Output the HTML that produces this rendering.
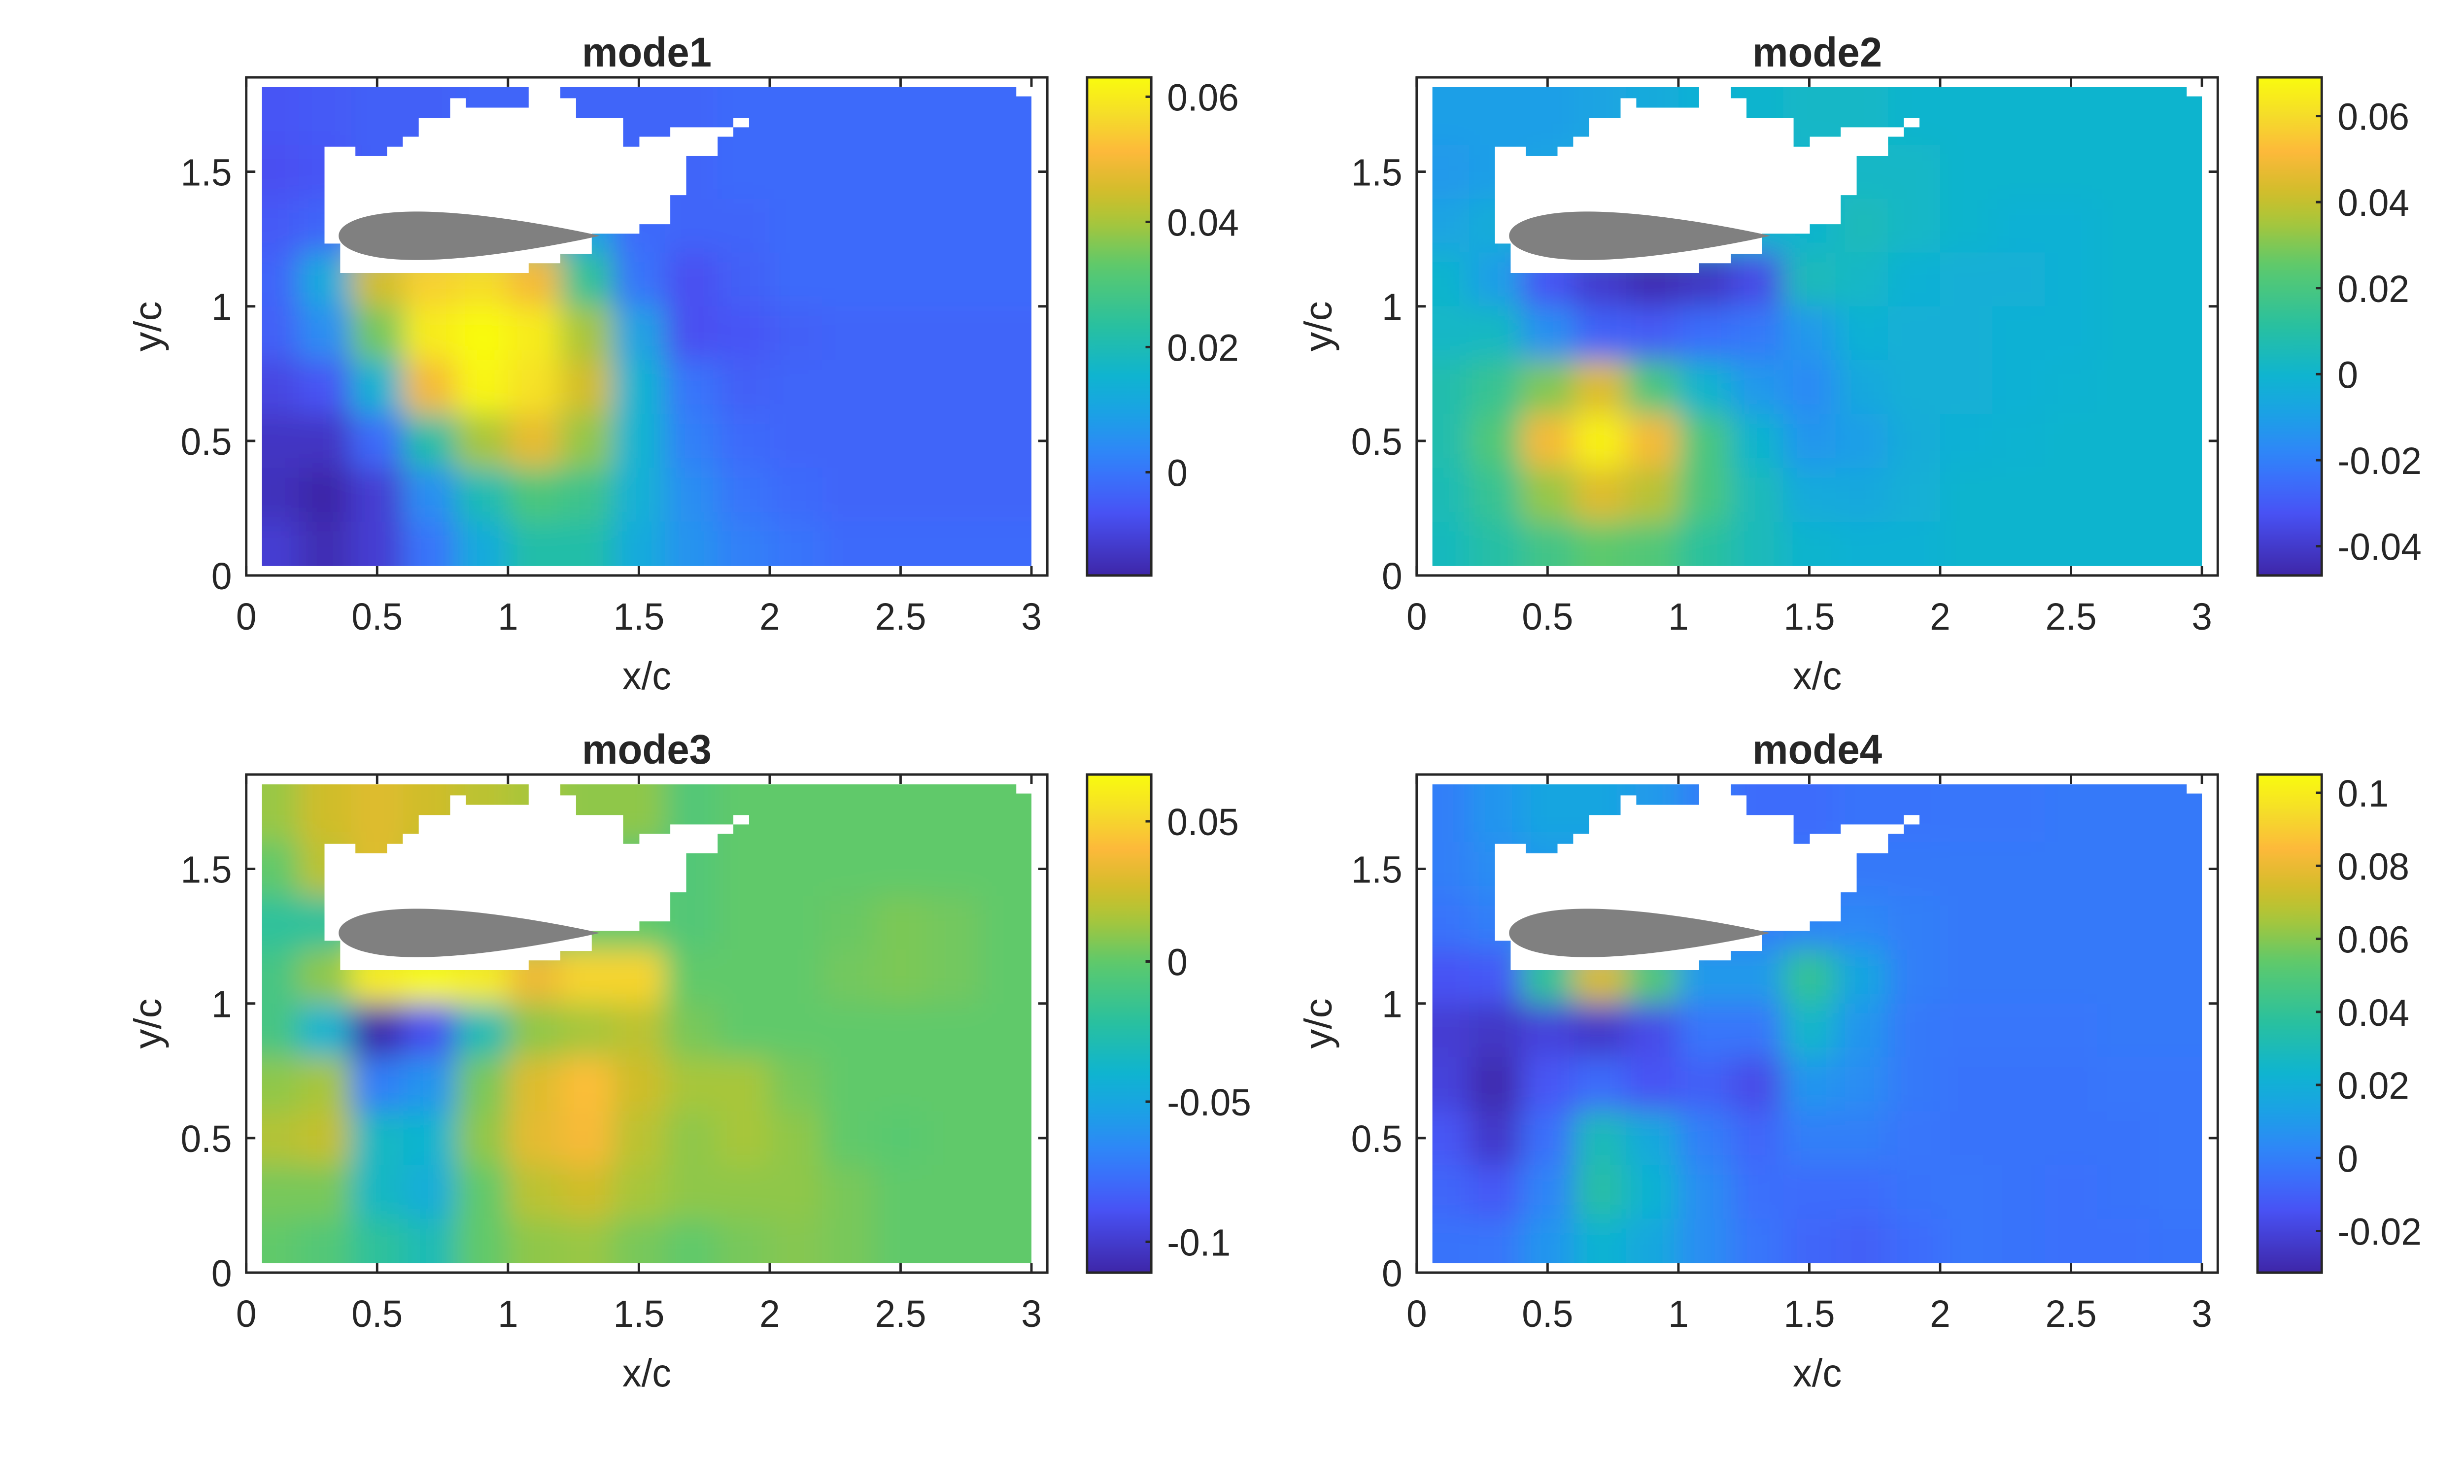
<!DOCTYPE html>
<html><head><meta charset="utf-8">
<style>
html,body{margin:0;padding:0;background:#fff;overflow:hidden;width:100%;height:100%;}
svg{display:block;width:100vw;height:100vh;}
text{font-family:"Liberation Sans",Arial,sans-serif;fill:#262626;}
</style></head>
<body>
<svg id="fig" xmlns="http://www.w3.org/2000/svg" viewBox="0 0 5143 3012" preserveAspectRatio="none">
<defs>
<filter id="blur" filterUnits="userSpaceOnUse" x="-500" y="-500" width="6200" height="4000"><feGaussianBlur stdDeviation="30"/></filter>
</defs>
</svg>
<script>
// grid centres (data units)
const xCenters = [0.1,0.3,0.5,0.7,0.9,1.1,1.3,1.5,1.7,1.9,2.1,2.3,2.5,2.7,2.9];
const yCenters = [1.7,1.5,1.3,1.1,0.9,0.7,0.5,0.3,0.1];
const xTicks = [0,0.5,1,1.5,2,2.5,3];
const xTickLabels = ["0","0.5","1","1.5","2","2.5","3"];
const yTicks = [0,0.5,1,1.5];
const yTickLabels = ["0","0.5","1","1.5"];
const titles = ["mode1","mode2","mode3","mode4"];
const cRanges = [[-0.0165,0.0631],[-0.0468,0.069],[-0.111,0.0667],[-0.0314,0.105]];
const cbTicks1 = [0,0.02,0.04,0.06];
const cbTicks2 = [-0.04,-0.02,0,0.02,0.04,0.06];
const cbTicks3 = [-0.1,-0.05,0,0.05];
const cbTicks4 = [-0.02,0,0.02,0.04,0.06,0.08,0.1];
const cbLabels1 = ["0","0.02","0.04","0.06"];
const cbLabels2 = ["-0.04","-0.02","0","0.02","0.04","0.06"];
const cbLabels3 = ["-0.1","-0.05","0","0.05"];
const cbLabels4 = ["-0.02","0","0.02","0.04","0.06","0.08","0.1"];
const mode1 = [
[-.006,-.005,-.004,-.004,-.003,-.003,-.003,-.003,-.003,-.002,-.002,-.002,-.002,-.002,-.002],
[-.007,-.006,-.004,-.003,-.003,-.003,-.003,-.003,-.003,-.002,-.002,-.002,-.002,-.002,-.002],
[-.005,-.003,.015,.03,.03,.025,.01,-.002,-.003,-.003,-.002,-.002,-.002,-.002,-.002],
[-.003,.012,.045,.055,.057,.05,.025,.0,-.007,-.004,-.002,-.002,-.002,-.002,-.002],
[-.004,.005,.035,.06,.065,.06,.04,.01,-.007,-.006,-.004,-.003,-.003,-.003,-.003],
[-.009,-.006,.015,.05,.062,.058,.045,.015,.0,-.004,-.003,-.003,-.003,-.003,-.003],
[-.013,-.013,-.002,.022,.04,.048,.038,.015,.002,-.002,-.003,-.003,-.003,-.003,-.003],
[-.014,-.017,-.011,.005,.02,.03,.027,.014,.005,.0,-.002,-.003,-.003,-.003,-.003],
[-.011,-.015,-.011,.0,.012,.022,.022,.012,.006,.002,.0,-.002,-.002,-.002,-.002]];
const mode2 = [
[-.01,-.01,-.01,-.008,-.005,-.002,.0,.002,.002,.0,.0,.0,.0,.0,.0],
[-.012,-.01,-.008,-.005,-.003,.0,.0,.0,.002,.002,.0,.0,.0,.0,.0],
[-.008,-.004,.0,.0,.0,.0,.0,.0,.005,.002,.0,-.002,-.002,.0,.0],
[.0,-.01,-.032,-.04,-.045,-.042,-.035,.005,.002,-.002,-.003,-.003,-.002,.0,.0],
[.002,.003,-.015,-.028,-.03,-.025,-.022,-.012,-.002,-.003,-.003,-.002,-.002,.0,.0],
[.008,.015,.03,.045,.02,.0,-.012,-.017,-.006,-.003,-.003,-.002,-.001,.0,.0],
[.008,.022,.05,.066,.05,.02,.0,-.013,-.01,-.004,-.002,-.001,.0,.0,.0],
[.006,.015,.033,.045,.038,.02,.005,-.005,-.006,-.003,.0,.0,.0,.0,.0],
[.004,.01,.018,.025,.022,.012,.005,.0,-.002,-.002,.0,.0,.0,.0,.0]];
const mode3 = [
[.012,.025,.03,.025,.02,.015,.01,.01,-.005,.0,.0,.0,.0,.0,.0],
[.0,.02,.03,.02,.01,.01,.0,-.005,-.005,.0,.0,.0,.0,.0,.0],
[-.02,-.02,.0,.0,.0,.0,.0,.0,-.005,.0,.0,.002,.006,.004,.0],
[-.01,.01,.06,.066,.06,.035,.05,.05,.0,.0,.0,.004,.006,.004,.0],
[-.01,-.04,-.11,-.09,-.03,.01,.015,.02,.005,.0,.0,.0,.0,.0,.0],
[.01,.015,-.07,-.06,.005,.03,.042,.025,.015,.015,.005,.0,.0,.0,.0],
[.018,.022,-.035,-.04,.01,.032,.038,.02,.01,.015,.01,.0,-.002,.0,.0],
[.005,.005,-.035,-.045,.0,.02,.025,.015,.01,.01,.01,.005,.0,.0,.0],
[.0,-.005,-.02,-.03,.0,.01,.012,.005,.0,.005,.008,.005,.0,.0,.0]];
const mode4 = [
[.0,.008,.015,.015,.01,.0,-.006,-.006,-.004,-.004,-.003,-.003,-.002,-.002,-.002],
[.0,.005,.01,.01,.005,.0,-.003,-.003,-.002,-.002,-.002,-.002,-.002,-.002,-.002],
[-.004,.0,.003,.003,.003,.0,.0,.002,.003,.0,-.002,-.002,-.002,-.002,-.002],
[-.014,-.012,.04,.075,.05,.01,.01,.04,.015,.0,-.002,-.002,-.002,-.002,-.002],
[-.022,-.025,-.02,-.024,-.017,-.003,-.003,.025,.008,-.002,-.003,-.003,-.003,-.002,-.002],
[-.02,-.03,-.013,-.006,-.014,-.01,-.017,.008,.005,-.002,-.004,-.004,-.004,-.003,-.003],
[-.013,-.024,-.005,.03,.017,.0,-.008,.0,.0,-.003,-.004,-.004,-.004,-.004,-.003],
[-.008,-.012,.002,.035,.022,.005,-.005,-.006,-.006,-.004,-.003,-.004,-.005,-.004,-.003],
[-.004,-.003,.008,.022,.016,.005,-.003,-.008,-.01,-.006,-.003,-.004,-.005,-.005,-.004]];
const fields = [mode1,mode2,mode3,mode4];
const cbTicks = [cbTicks1,cbTicks2,cbTicks3,cbTicks4];
const cbLabels = [cbLabels1,cbLabels2,cbLabels3,cbLabels4];
// measurement-mask outline (data units)
const maskX = [0.299,0.299,0.417,0.417,0.538,0.538,0.598,0.598,0.659,0.659,0.779,0.779,0.839,0.839,1.079,1.079,1.2,1.2,1.26,1.26,1.44,1.44,1.502,1.502,1.62,1.62,1.921,1.921,1.861,1.861,1.801,1.801,1.681,1.681,1.62,1.62,1.502,1.502,1.32,1.32,1.2,1.2,1.079,1.079,0.359,0.359];
const maskY = [1.233,1.593,1.593,1.558,1.558,1.593,1.593,1.63,1.63,1.70,1.70,1.773,1.773,1.738,1.738,1.86,1.86,1.773,1.773,1.70,1.70,1.593,1.593,1.63,1.63,1.665,1.665,1.70,1.70,1.63,1.63,1.558,1.558,1.413,1.413,1.305,1.305,1.27,1.27,1.195,1.195,1.16,1.16,1.124,1.124,1.233];

const NS="http://www.w3.org/2000/svg";
const svg=document.getElementById('fig');
function mk(tag,attrs,parent){const e=document.createElementNS(NS,tag);for(const k in attrs)e.setAttribute(k,attrs[k]);(parent||svg).appendChild(e);return e;}
const stops=[[0,[62,38,168]],[0.125,[72,82,244]],[0.19,[59,110,251]],[0.25,[46,135,247]],[0.32,[28,160,230]],[0.4,[15,180,208]],[0.5,[40,192,160]],[0.62,[92,201,109]],[0.71,[168,198,58]],[0.767,[208,189,42]],[0.85,[253,185,58]],[0.92,[245,219,43]],[1,[249,251,14]]];
function parula(t){t=Math.max(0,Math.min(1,t));for(let i=1;i<stops.length;i++){if(t<=stops[i][0]){const a=stops[i-1],b=stops[i];const f=(t-a[0])/(b[0]-a[0]);const c=a[1].map((v,k)=>Math.round(v+(b[1][k]-v)*f));return `rgb(${c[0]},${c[1]},${c[2]})`;}}return 'rgb(249,251,14)';}

const W=1672,H=1011,S=546.3;
const origins=[[514,157],[2957,157],[514,1572],[2957,1572]];
const gradDefs=svg.querySelector('defs');
const gr=mk('linearGradient',{id:'cbgrad',x1:0,y1:1,x2:0,y2:0},gradDefs);
for(let i=0;i<=40;i++){mk('stop',{offset:i/40,'stop-color':parula(i/40)},gr);}

origins.forEach((o,p)=>{
  const L=o[0],T=o[1],B=T+H,R=L+W;
  const sx=v=>L+v*S, sy=v=>B-v*S;
  const g=mk('g',{});
  
  
  const cid='clip'+p;
  const cp=mk('clipPath',{id:cid},gradDefs);
  mk('rect',{x:sx(0.06),y:sy(1.814),width:sx(3.0)-sx(0.06),height:sy(0.035)-sy(1.814)},cp);
  const clipG=mk('g',{'clip-path':`url(#${cid})`},g);
  
  
  const bg=mk('g',{filter:'url(#blur)'},clipG);
  const [cmin,cmax]=cRanges[p];const data=fields[p];
  for(let r=0;r<yCenters.length;r++)for(let c=0;c<xCenters.length;c++){
    let x0=xCenters[c]-0.1,x1=xCenters[c]+0.1,y0=yCenters[r]-0.1,y1=yCenters[r]+0.1;
    if(c===0)x0-=0.3; if(c===xCenters.length-1)x1+=0.3;
    if(r===0)y1+=0.3; if(r===yCenters.length-1)y0-=0.3;
    const rc=mk('rect',{x:sx(x0),y:sy(y1),width:sx(x1)-sx(x0)+1,height:sy(y0)-sy(y1)+1,fill:parula((data[r][c]-cmin)/(cmax-cmin))},bg);
    
    
  }
  const pts=maskX.map((x,i)=>sx(x)+','+sy(maskY[i])).join(' ');
  const m=mk('polygon',{points:pts,fill:'#fff'},g);
  
  
  const nr=mk('rect',{x:sx(2.942),y:sy(1.86),width:sx(3.05)-sx(2.942),height:sy(1.78)-sy(1.86),fill:'#fff'},g);
  
  
  // airfoil NACA0018
  let up=[],lo=[];
  for(let i=0;i<=80;i++){const b=Math.PI*i/80;const xc=(1-Math.cos(b))/2;const yt=5*0.18*(0.2969*Math.sqrt(xc)-0.126*xc-0.3516*xc*xc+0.2843*xc**3-0.1036*xc**4);
    up.push(sx(0.353+xc*0.998)+','+sy(1.262+yt));lo.unshift(sx(0.353+xc*0.998)+','+sy(1.262-yt));}
  const af=mk('polygon',{points:up.concat(lo).join(' '),fill:'#808080'},g);
  
  
  const box=mk('rect',{x:L,y:T,width:W,height:H,fill:'none',stroke:'#262626','stroke-width':5},g);
  
  
  xTicks.forEach((v,i)=>{
    mk('line',{x1:sx(v),x2:sx(v),y1:B,y2:B-19,stroke:'#262626','stroke-width':5},g);
    mk('line',{x1:sx(v),x2:sx(v),y1:T,y2:T+19,stroke:'#262626','stroke-width':5},g);
    const t=mk('text',{x:sx(v),y:B+110,'font-size':77,'text-anchor':'middle'},g);t.textContent=xTickLabels[i];
    
    
  });
  yTicks.forEach((v,i)=>{
    mk('line',{x1:L,x2:L+19,y1:sy(v),y2:sy(v),stroke:'#262626','stroke-width':5},g);
    mk('line',{x1:R,x2:R-19,y1:sy(v),y2:sy(v),stroke:'#262626','stroke-width':5},g);
    const t=mk('text',{x:L-30,y:sy(v)+28,'font-size':77,'text-anchor':'end'},g);t.textContent=yTickLabels[i];
    
    
  });
  const xl=mk('text',{x:(L+R)/2,y:B+231,'font-size':80,'text-anchor':'middle'},g);xl.textContent='x/c';
  
  
  const yl=mk('text',{x:0,y:0,'font-size':80,'text-anchor':'middle',transform:`translate(${L-178},${(T+B)/2}) rotate(-90)`},g);yl.textContent='y/c';
  
  
  const tt=mk('text',{x:(L+R)/2,y:T-22,'font-size':84,'font-weight':'bold','text-anchor':'middle',fill:'#000'},g);tt.textContent=titles[p];
  
  
  const cL=R+83,cW=134;
  const cb=mk('rect',{x:cL,y:T,width:cW,height:H,fill:'url(#cbgrad)',stroke:'#262626','stroke-width':5},g);
  
  
  const cy=v=>B-(v-cmin)/(cmax-cmin)*H;
  cbTicks[p].forEach((v,i)=>{
    mk('line',{x1:cL+cW,x2:cL+cW-12,y1:cy(v),y2:cy(v),stroke:'#262626','stroke-width':5},g);
    const t=mk('text',{x:cL+cW+33,y:cy(v)+28,'font-size':77},g);t.textContent=cbLabels[p][i];
    
    
  });
});
</script>
</body></html>
